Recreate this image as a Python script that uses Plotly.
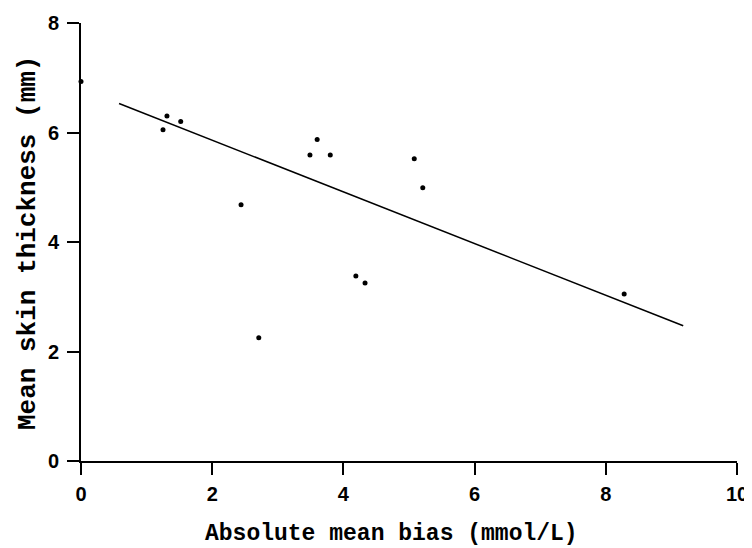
import plotly.graph_objects as go

# Data
bias = [0.0, 1.25, 1.31, 1.52, 2.44, 2.71, 3.49, 3.60, 3.80, 4.19, 4.33, 5.08, 5.21, 8.28]
thickness = [6.93, 6.05, 6.30, 6.20, 4.68, 2.25, 5.59, 5.87, 5.59, 3.38, 3.25, 5.52, 4.99, 3.05]

fit_x = [0.58, 9.18]
fit_y = [6.53, 2.47]

x_ticks = [0, 2, 4, 6, 8, 10]
y_ticks = [0, 2, 4, 6, 8]

x_title = "Absolute mean bias (mmol/L)"
y_title = "Mean skin thickness (mm)"

fig = go.Figure()
fig.add_trace(go.Scatter(x=fit_x, y=fit_y, mode="lines",
                         line=dict(color="black", width=1.5),
                         showlegend=False, cliponaxis=False))
fig.add_trace(go.Scatter(x=bias, y=thickness, mode="markers",
                         marker=dict(color="black", size=5),
                         showlegend=False, cliponaxis=False))

tickfont = dict(family="Liberation Sans", size=20, color="black", weight="bold")

# page body has an 8px margin, so the figure is 8px smaller than the window
fig.update_layout(
    width=744, height=540,
    margin=dict(l=73, r=15, t=15, b=87),
    paper_bgcolor="white", plot_bgcolor="white",
    xaxis=dict(range=[0, 10], tickvals=x_ticks, showgrid=False, zeroline=False,
               showline=True, linecolor="black", linewidth=2, automargin=False,
               ticks="outside", ticklen=12, tickwidth=2, tickcolor="black",
               tickfont=tickfont, ticklabelstandoff=2),
    yaxis=dict(range=[0, 8], tickvals=y_ticks, showgrid=False, zeroline=False,
               showline=True, linecolor="black", linewidth=2, automargin=False,
               ticks="outside", ticklen=12, tickwidth=2, tickcolor="black",
               tickfont=tickfont, ticklabelstandoff=4),
    annotations=[
        dict(text=x_title, xref="paper", yref="paper", x=0.474, y=-0.1667,
             xanchor="center", yanchor="middle", showarrow=False,
             font=dict(family="Liberation Mono", size=23, color="black", weight="bold")),
        dict(text=y_title, xref="paper", yref="paper", x=-0.0808, y=0.4977,
             xanchor="center", yanchor="middle", showarrow=False, textangle=-90,
             font=dict(family="Liberation Mono", size=26, color="black", weight="bold")),
    ],
)

fig.write_html("out.html")
